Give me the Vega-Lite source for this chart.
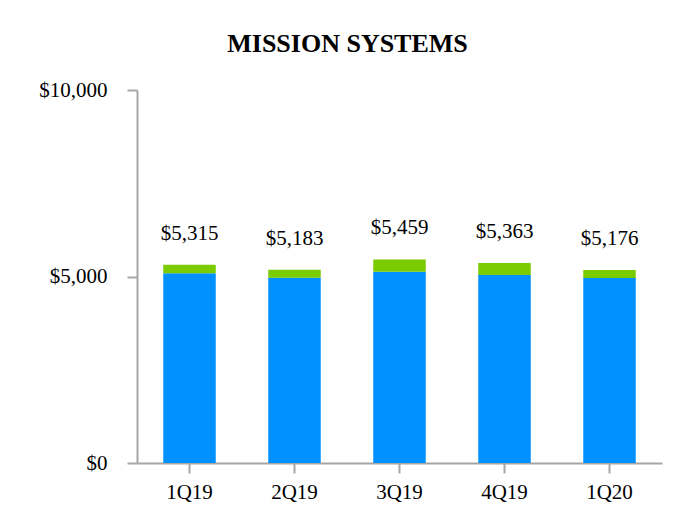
{
  "$schema": "https://vega.github.io/schema/vega-lite/v6.json",
  "width": 525,
  "height": 373,
  "autosize": "none",
  "padding": {"left": 137, "top": 90, "right": 30, "bottom": 69},
  "background": "white",
  "title": {
    "text": "MISSION SYSTEMS",
    "font": "Liberation Serif",
    "fontSize": 26,
    "fontWeight": "bold",
    "color": "black",
    "anchor": "middle",
    "dx": -52,
    "offset": 22
  },
  "datasets": {
    "backlog": [
      {"quarter": "1Q19", "type": "Funded", "value": 5085},
      {"quarter": "1Q19", "type": "Unfunded", "value": 230},
      {"quarter": "2Q19", "type": "Funded", "value": 4968},
      {"quarter": "2Q19", "type": "Unfunded", "value": 215},
      {"quarter": "3Q19", "type": "Funded", "value": 5129},
      {"quarter": "3Q19", "type": "Unfunded", "value": 330},
      {"quarter": "4Q19", "type": "Funded", "value": 5043},
      {"quarter": "4Q19", "type": "Unfunded", "value": 320},
      {"quarter": "1Q20", "type": "Funded", "value": 4961},
      {"quarter": "1Q20", "type": "Unfunded", "value": 215}
    ],
    "totals": [
      {"quarter": "1Q19", "total": 5315},
      {"quarter": "2Q19", "total": 5183},
      {"quarter": "3Q19", "total": 5459},
      {"quarter": "4Q19", "total": 5363},
      {"quarter": "1Q20", "total": 5176}
    ]
  },
  "config": {
    "view": {"stroke": null},
    "axis": {
      "labelFont": "Liberation Serif",
      "labelFontSize": 21,
      "labelColor": "black",
      "domainColor": "#a6a6a6",
      "domainWidth": 2,
      "tickColor": "#a6a6a6",
      "tickWidth": 2,
      "tickSize": 10,
      "grid": false,
      "title": null
    }
  },
  "layer": [
    {
      "data": {"name": "backlog"},
      "mark": {"type": "bar"},
      "encoding": {
        "x": {
          "field": "quarter",
          "type": "nominal",
          "sort": ["1Q19", "2Q19", "3Q19", "4Q19", "1Q20"],
          "scale": {"paddingInner": 0.5, "paddingOuter": 0.25},
          "axis": {"labelAngle": 0, "labelPadding": 8}
        },
        "y": {
          "field": "value",
          "type": "quantitative",
          "stack": "zero",
          "scale": {"domain": [0, 10000]},
          "axis": {"values": [0, 5000, 10000], "format": "$,.0f", "labelPadding": 20}
        },
        "color": {
          "field": "type",
          "type": "nominal",
          "scale": {"domain": ["Funded", "Unfunded"], "range": ["#0091ff", "#7acc00"]},
          "legend": null
        },
        "order": {"field": "type", "sort": "ascending"}
      }
    },
    {
      "data": {"name": "totals"},
      "mark": {
        "type": "text",
        "font": "Liberation Serif",
        "fontSize": 21,
        "color": "black",
        "baseline": "middle",
        "dy": -31
      },
      "encoding": {
        "x": {"field": "quarter", "type": "nominal", "sort": ["1Q19", "2Q19", "3Q19", "4Q19", "1Q20"]},
        "y": {"field": "total", "type": "quantitative"},
        "text": {"field": "total", "type": "quantitative", "format": "$,.0f"}
      }
    }
  ]
}
